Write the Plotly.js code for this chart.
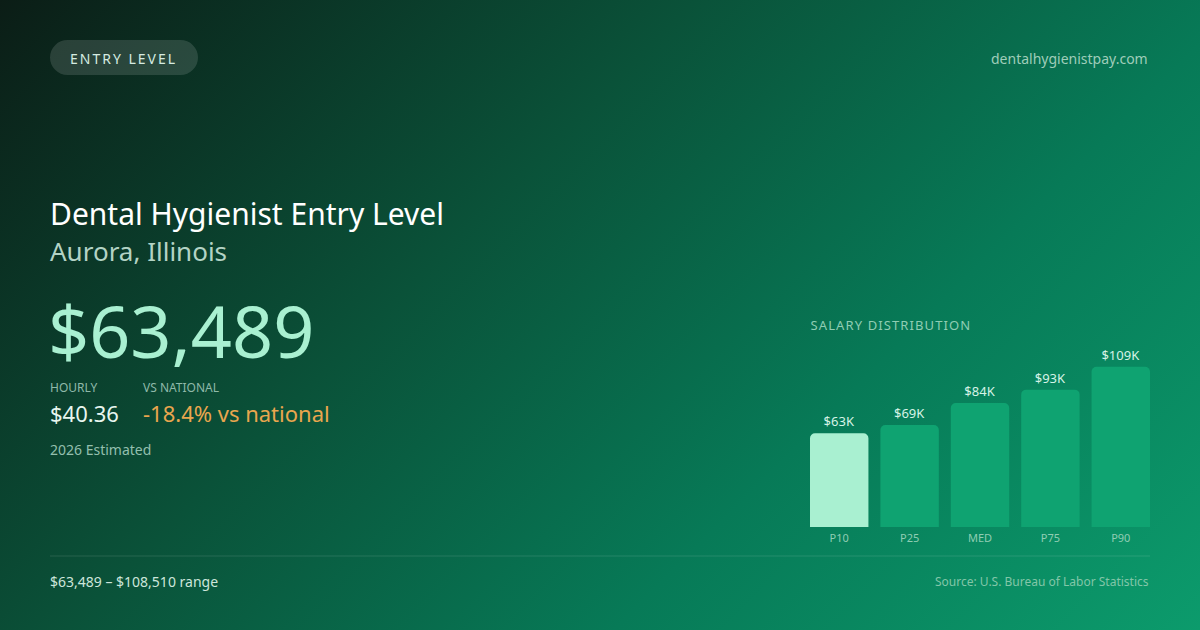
<!DOCTYPE html>
<html>
<head>
<meta charset="utf-8">
<script src="https://cdn.plot.ly/plotly-3.0.1.min.js"></script>
<style>
  html, body { margin: 0; padding: 0; }
  body {
    width: 1200px; height: 630px; overflow: hidden;
    background: linear-gradient(135deg, #0b1d16 0%, #0a5239 38%, #077a57 68%, #0c9b6c 100%);
  }
  #chart { width: 1200px; height: 630px; }
  g.annotation[data-index="0"] text { letter-spacing: 2px; }
  g.annotation[data-index="10"] text { letter-spacing: 1.1px; }
</style>
</head>
<body>
<div id="chart"></div>
<script>
// salary percentiles, Aurora IL, entry level
var percentiles = ['P10', 'P25', 'MED', 'P75', 'P90'];
var salaries = [63489, 69000, 84000, 93000, 108510];
var barLabels = ['$63K', '$69K', '$84K', '$93K', '$109K'];
var barColors = ['#a9f0d1', '#0fa371', '#0fa371', '#0fa371', '#0fa371'];

var W = 1200, H = 630;
function px(x) { return x / W; }
function py(y) { return 1 - y / H; }

var bars = {
  type: 'bar',
  x: percentiles,
  y: salaries,
  text: barLabels,
  textposition: 'outside',
  cliponaxis: false,
  textfont: { family: 'Noto Sans', size: 13, color: '#d6f3e6' },
  marker: { color: barColors, line: { width: 0 } },
  hoverinfo: 'skip'
};

// left-anchored text gets ~2px of padding from plotly, so shift by that
function note(text, x, y, size, color, anchor) {
  var right = anchor === 'right';
  return {
    text: text, xref: 'paper', yref: 'paper',
    x: px(right ? x + 2 : x - 2), y: py(y), xanchor: anchor || 'left', yanchor: 'middle',
    showarrow: false,
    font: { family: 'Noto Sans', size: size, color: color }
  };
}

var annotations = [
  note('ENTRY LEVEL', 81, 58, 14, '#d5ebe1'),
  note('dentalhygienistpay.com', 1148, 58, 14, '#9fcdb9', 'right'),
  note('Dental Hygienist Entry Level', 50, 213, 30, '#ffffff'),
  note('Aurora, Illinois', 50, 251, 26, '#b3d3c5'),
  note('$63,489', 48, 330, 72, '#a9f0d1'),
  note('HOURLY', 50, 387, 12, '#8fb9a9'),
  note('VS NATIONAL', 143, 387, 12, '#8fb9a9'),
  note('$40.36', 50, 413, 22, '#e8f6ef'),
  note('-18.4% vs national', 143, 413, 22, '#e9a64e'),
  note('2026 Estimated', 50, 449, 14, '#93bfae'),
  note('SALARY DISTRIBUTION', 821, 325, 13, '#8fcdb3'),
  note('$63,489 – $108,510 range', 50, 581, 14, '#cde6db'),
  note('Source: U.S. Bureau of Labor Statistics', 1149, 581, 12, '#82c6a8', 'right')
];

// badge behind "ENTRY LEVEL", ends rounded after render
var bx0 = 50, bx1 = 198, by0 = 40, by1 = 75, r = 17.5;

var layout = {
  width: W, height: H,
  margin: { l: 0, r: 0, t: 0, b: 0 },
  paper_bgcolor: 'rgba(0,0,0,0)',
  plot_bgcolor: 'rgba(0,0,0,0)',
  showlegend: false,
  bargap: 0.17,
  barcornerradius: 5,
  xaxis: {
    domain: [px(810), px(1150)],
    range: [-0.5 + 0.085, 4.5 - 0.085],
    showgrid: false, zeroline: false, showline: false,
    ticks: '', ticklabelstandoff: 3,
    tickfont: { family: 'Noto Sans', size: 11, color: '#8fcdb3' },
    fixedrange: true
  },
  yaxis: {
    domain: [py(527), py(335)],
    range: [0, 130000],
    visible: false, fixedrange: true
  },
  shapes: [
    { type: 'rect', xref: 'paper', yref: 'paper',
      x0: px(bx0), x1: px(bx1), y0: py(by1), y1: py(by0),
      fillcolor: 'rgba(255,255,255,0.13)', line: { width: 0 }, layer: 'below' },
    { type: 'line', xref: 'paper', yref: 'paper', x0: px(50), x1: px(1150), y0: py(556), y1: py(556),
      line: { color: 'rgba(255,255,255,0.12)', width: 1 } }
  ],
  annotations: annotations
};

Plotly.newPlot('chart', [bars], layout, { staticPlot: true, displayModeBar: false }).then(function () {
  var rect = document.querySelector('.shapelayer path');
  if (rect) {
    var p = 'M' + (bx0 + r) + ',' + by0 + 'H' + (bx1 - r) +
      'A' + r + ',' + r + ' 0 0 1 ' + (bx1 - r) + ',' + by1 +
      'H' + (bx0 + r) + 'A' + r + ',' + r + ' 0 0 1 ' + (bx0 + r) + ',' + by0 + 'Z';
    rect.setAttribute('d', p);
  }
});
</script>
</body>
</html>
